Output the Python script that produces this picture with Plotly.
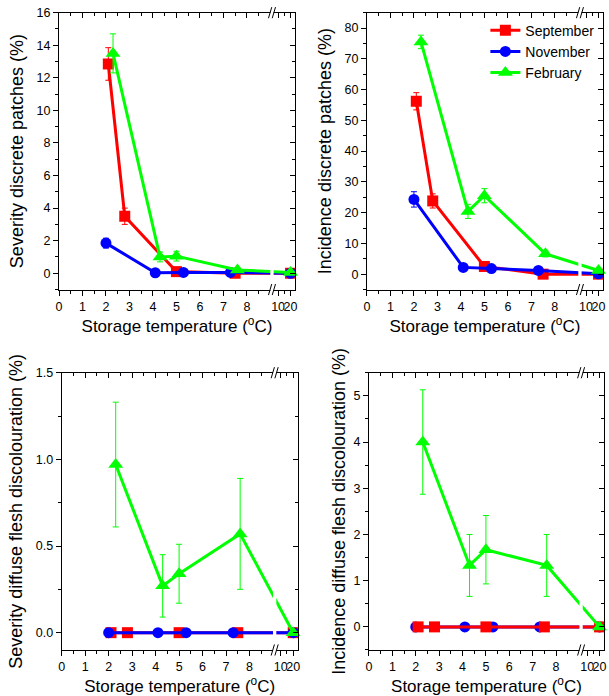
import plotly.graph_objects as go

# ---------------- data ----------------
months = ["September", "November", "February"]
colors = {"September": "#FF0000", "November": "#0000FF", "February": "#00FF00"}
symbols = {"September": "square", "November": "circle", "February": "triangle-up"}
msizes = {"September": 11, "November": 11, "February": 13}

temps_sep = [2.1, 2.8, 5.0, 7.5, 20]
temps_nov = [2.0, 4.1, 5.3, 7.3, 20]
temps_feb = [2.3, 4.3, 5.0, 7.6, 20]

# Severity discrete patches (%)
sev_patch_sep = [12.85, 3.5, 0.1, 0.0, 0.0]
sev_patch_sep_err = [1.0, 0.5, 0.1, 0.0, 0.0]
sev_patch_nov = [1.85, 0.03, 0.05, 0.05, 0.0]
sev_patch_nov_err = [0.3, 0.05, 0.05, 0.05, 0.0]
sev_patch_feb = [13.5, 1.0, 1.05, 0.2, 0.05]
sev_patch_feb_err = [1.2, 0.3, 0.3, 0.1, 0.05]

# Incidence discrete patches (%)
inc_patch_sep = [56.2, 23.8, 2.5, 0.0, 0.0]
inc_patch_sep_err = [2.8, 2.3, 0.5, 0.0, 0.0]
inc_patch_nov = [24.3, 2.2, 1.8, 1.2, 0.1]
inc_patch_nov_err = [2.5, 0.5, 0.5, 0.5, 0.0]
inc_patch_feb = [75.5, 20.4, 25.5, 6.6, 1.2]
inc_patch_feb_err = [2.2, 2.3, 2.3, 1.0, 0.5]

# Severity diffuse flesh discolouration (%)
sev_diff_sep = [0.0, 0.0, 0.0, 0.0, 0.0]
sev_diff_nov = [0.0, 0.0, 0.0, 0.0, 0.0]
sev_diff_feb = [0.97, 0.27, 0.34, 0.57, 0.0]
sev_diff_feb_err = [0.36, 0.18, 0.17, 0.32, 0.0]

# Incidence diffuse flesh discolouration (%)
inc_diff_sep = [0.0, 0.0, 0.0, 0.0, 0.0]
inc_diff_nov = [0.0, 0.0, 0.0, 0.0, 0.0]
inc_diff_feb = [4.0, 1.33, 1.67, 1.33, 0.0]
inc_diff_feb_err = [1.13, 0.67, 0.74, 0.67, 0.0]

x_tick_labels = ["0", "1", "2", "3", "4", "5", "6", "7", "8", "10", "20"]
x_tick_temps = [0, 1, 2, 3, 4, 5, 6, 7, 8, 10, 20]

# ---------------- broken x-axis scale ----------------
BREAK_AT = 9.07
SEG2_START = 9.33
SEG2_SCALE = 0.053
X_RANGE = [0, 10.05]


def pos(t):
    return t if t <= 9 else SEG2_START + (t - 10) * SEG2_SCALE


temps = {"September": temps_sep, "November": temps_nov, "February": temps_feb}
zero = [0, 0, 0, 0, 0]

panels = [
    dict(title="Severity discrete patches (%)",
         data={"September": (sev_patch_sep, sev_patch_sep_err),
               "November": (sev_patch_nov, sev_patch_nov_err),
               "February": (sev_patch_feb, sev_patch_feb_err)},
         order=["September", "November", "February"],
         yrange=[-1, 16], dtick=2, minor=1, fmt="d",
         xdom=[0.0969, 0.4844], ydom=[0.584, 0.9818], standoff=8),
    dict(title="Incidence discrete patches (%)",
         data={"September": (inc_patch_sep, inc_patch_sep_err),
               "November": (inc_patch_nov, inc_patch_nov_err),
               "February": (inc_patch_feb, inc_patch_feb_err)},
         order=["September", "November", "February"],
         yrange=[-5, 85], dtick=10, minor=5, fmt="d",
         xdom=[0.6026, 0.9901], ydom=[0.584, 0.9818], standoff=8),
    dict(title="Severity diffuse flesh discolouration (%)",
         data={"September": (sev_diff_sep, zero),
               "November": (sev_diff_nov, zero),
               "February": (sev_diff_feb, sev_diff_feb_err)},
         order=["September", "November", "February"],
         yrange=[-0.1, 1.5], dtick=0.5, minor=0.25, fmt=".1f",
         xdom=[0.1013, 0.4888], ydom=[0.0661, 0.4645], standoff=8),
    dict(title="Incidence diffuse flesh discolouration (%)",
         data={"September": (inc_diff_sep, zero),
               "November": (inc_diff_nov, zero),
               "February": (inc_diff_feb, inc_diff_feb_err)},
         order=["November", "September", "February"],
         yrange=[-0.5, 5.5], dtick=1, minor=0.5, fmt="d",
         xdom=[0.6059, 0.9918], ydom=[0.0661, 0.4645], standoff=3),
]

FONT = "Liberation Sans, Arial, sans-serif"
fig = go.Figure()

major_x = [pos(t) for t in x_tick_temps]
minor_x = [i + 0.5 for i in range(0, 9)] + [pos(15)]

shapes = []
for i, p in enumerate(panels):
    k = i + 1
    ko = i + 5
    xa = "x" if k == 1 else f"x{k}"
    ya = "y" if k == 1 else f"y{k}"
    xo, yo = f"x{ko}", f"y{ko}"
    for m in p["order"]:
        yv, ye = p["data"][m]
        fig.add_trace(go.Scatter(
            x=[pos(t) for t in temps[m]], y=yv,
            error_y=dict(type="data", array=ye, visible=True, color=colors[m],
                         thickness=1, width=3),
            mode="lines+markers", name=m,
            line=dict(color=colors[m], width=3),
            marker=dict(symbol=symbols[m], size=msizes[m], color=colors[m],
                        line=dict(width=0)),
            xaxis=xa, yaxis=ya, showlegend=(k == 2), cliponaxis=False))
    # dummy trace for mirrored (top/right) axes
    fig.add_trace(go.Scatter(x=[None], y=[None], xaxis=xo, yaxis=yo,
                             showlegend=False, hoverinfo="skip"))

    common_x = dict(range=X_RANGE, tickmode="array", tickvals=major_x,
                    showline=True, linecolor="black", linewidth=1,
                    tickcolor="black", ticklen=5, tickwidth=1,
                    showgrid=False, zeroline=False, fixedrange=True,
                    automargin=False,
                    minor=dict(tickmode="array", tickvals=minor_x, ticklen=3,
                               tickcolor="black", tickwidth=1, showgrid=False))
    common_y = dict(range=p["yrange"], tickmode="linear", tick0=0, dtick=p["dtick"],
                    showline=True, linecolor="black", linewidth=1,
                    tickcolor="black", ticklen=5, tickwidth=1,
                    showgrid=False, zeroline=False, fixedrange=True,
                    automargin=False,
                    minor=dict(tickmode="linear", tick0=0, dtick=p["minor"], ticklen=3,
                               tickcolor="black", tickwidth=1, showgrid=False))
    xname = "xaxis" if k == 1 else f"xaxis{k}"
    yname = "yaxis" if k == 1 else f"yaxis{k}"
    fig.layout[xname] = dict(common_x, domain=p["xdom"], anchor=ya, side="bottom",
                             ticks="outside", ticktext=x_tick_labels,
                             minor_ticks="outside", tickangle=0,
                             tickfont=dict(family=FONT, size=12.5, color="black"),
                             title=dict(text="Storage temperature (<sup>o</sup>C)",
                                        font=dict(family=FONT, size=17, color="black"),
                                        standoff=4))
    fig.layout[yname] = dict(common_y, domain=p["ydom"], anchor=xa, side="left",
                             ticks="outside", minor_ticks="outside",
                             tickformat=p["fmt"], tickangle=0,
                             tickfont=dict(family=FONT, size=12.5, color="black"),
                             title=dict(text=p["title"],
                                        font=dict(family=FONT, size=18, color="black"),
                                        standoff=p["standoff"]))
    fig.layout[f"xaxis{ko}"] = dict(common_x, overlaying=xa, anchor=yo, side="top",
                                    ticks="inside", minor_ticks="inside",
                                    showticklabels=False)
    fig.layout[f"yaxis{ko}"] = dict(common_y, overlaying=ya, anchor=xo, side="right",
                                    ticks="inside", minor_ticks="inside",
                                    showticklabels=False)

    # axis break: white gap and "//" marks
    shapes.append(dict(type="rect", xref=xa, yref=f"{ya} domain",
                       x0=BREAK_AT - 0.07, x1=BREAK_AT + 0.07, y0=-0.01, y1=1.01,
                       fillcolor="white", line=dict(width=0), layer="above"))
    for yc in (0.0, 1.0):
        for dx in (-0.08, 0.08):
            shapes.append(dict(type="line", xref=xa, yref=f"{ya} domain",
                               x0=BREAK_AT + dx - 0.07, x1=BREAK_AT + dx + 0.07,
                               y0=yc - 0.02, y1=yc + 0.02,
                               line=dict(color="black", width=1), layer="above"))

fig.update_layout(
    width=609, height=696,
    margin=dict(l=0, r=0, t=0, b=0, autoexpand=False),
    paper_bgcolor="white", plot_bgcolor="white",
    font=dict(family=FONT, color="black"),
    shapes=shapes,
    showlegend=True,
    legend=dict(x=0.797, y=0.979, xanchor="left", yanchor="top",
                bgcolor="rgba(0,0,0,0)", font=dict(family=FONT, size=14, color="black"),
                tracegroupgap=0, itemwidth=30),
)

fig.write_html("out.html", config={"displayModeBar": False},
               post_script="document.body.style.margin='0';document.body.style.overflow='hidden';")
